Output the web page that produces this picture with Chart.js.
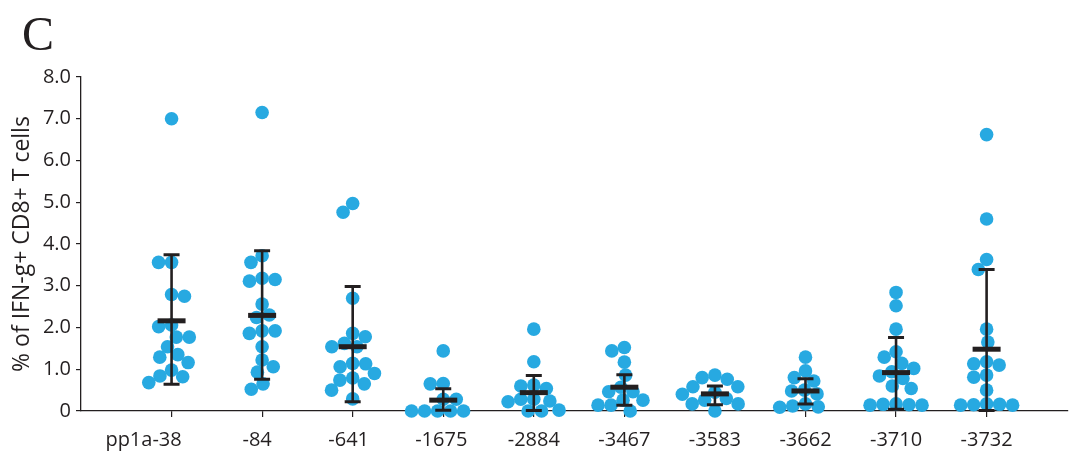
<!DOCTYPE html>
<html><head><meta charset="utf-8">
<script src="https://cdn.jsdelivr.net/npm/chart.js@4.4.1/dist/chart.umd.min.js"></script>
<style>
html,body{margin:0;padding:0;background:#fff;}
#wrap{position:relative;width:1074px;height:452px;}
#panel{position:absolute;left:22px;top:10px;font-family:"Liberation Serif","DejaVu Serif",serif;font-size:48px;line-height:48px;color:#231f20;}
canvas{display:block;}
</style></head><body>
<div id="wrap"><canvas id="c" width="1074" height="452"></canvas><div id="panel">C</div></div>
<script>
const categories = ['pp1a-38','-84','-641','-1675','-2884','-3467','-3583','-3662','-3710','-3732'];
const yTickLabels = ['0','1.0','2.0','3.0','4.0','5.0','6.0','7.0','8.0'];
const yTitle = '% of IFN-g+ CD8+ T cells';

const vals_pp1a38 = [7.00, 3.56, 3.56, 2.79, 2.75, 2.06, 2.02, 1.77, 1.77, 1.54, 1.35, 1.29, 1.16, 0.98, 0.84, 0.82, 0.68];
const vals_84     = [7.15, 3.72, 3.56, 3.18, 3.15, 3.11, 2.56, 2.30, 2.24, 1.92, 1.92, 1.86, 1.54, 1.22, 1.06, 0.93, 0.65, 0.52];
const vals_641    = [4.97, 4.76, 2.70, 1.86, 1.78, 1.62, 1.54, 1.54, 1.14, 1.13, 1.06, 0.90, 0.79, 0.74, 0.65, 0.50, 0.29];
const vals_1675   = [1.44, 0.66, 0.65, 0.28, 0.28, 0.00, 0.00, 0.00, 0.00, 0.00];
const vals_2884   = [1.96, 1.18, 0.62, 0.60, 0.54, 0.28, 0.28, 0.24, 0.22, 0.02, 0.00, 0.00];
const vals_3467   = [1.52, 1.44, 1.17, 0.86, 0.57, 0.46, 0.46, 0.26, 0.26, 0.14, 0.14, 0.00];
const vals_3583   = [0.86, 0.80, 0.76, 0.58, 0.58, 0.45, 0.40, 0.30, 0.26, 0.17, 0.17, 0.00];
const vals_3662   = [1.29, 0.96, 0.80, 0.72, 0.50, 0.48, 0.41, 0.17, 0.12, 0.10, 0.09];
const vals_3710   = [2.84, 2.52, 1.96, 1.42, 1.29, 1.14, 1.02, 0.94, 0.84, 0.78, 0.60, 0.54, 0.17, 0.16, 0.15, 0.14, 0.14];
const vals_3732   = [6.62, 4.60, 3.63, 3.39, 1.96, 1.65, 1.18, 1.13, 1.10, 0.86, 0.81, 0.50, 0.17, 0.16, 0.15, 0.14, 0.14];

const meanVals = [2.16, 2.29, 1.54, 0.26, 0.44, 0.57, 0.41, 0.48, 0.92, 1.48];
const sdUpper  = [3.74, 3.84, 2.98, 0.53, 0.85, 0.87, 0.60, 0.77, 1.76, 3.39];
const sdLower  = [0.64, 0.76, 0.22, 0.02, 0.01, 0.14, 0.15, 0.17, 0.04, 0.01];

const groups = [vals_pp1a38, vals_84, vals_641, vals_1675, vals_2884, vals_3467, vals_3583, vals_3662, vals_3710, vals_3732];
const points = [];
groups.forEach((g, i) => g.forEach(v => points.push({x: i, y: v})));

const INK = '#231f20';
const DOT = '#27a9e1';
const FONT = '"Open Sans", "DejaVu Sans", sans-serif';

// beeswarm: spread points horizontally (pixel space) so they don't stack
const swarm = {
  id: 'swarm',
  afterDatasetsUpdate(chart) {
    const meta = chart.getDatasetMeta(0);
    const xs = chart.scales.x;
    const D = 13;
    const byCat = {};
    meta.data.forEach((el, i) => {
      const raw = chart.data.datasets[0].data[i];
      (byCat[raw.x] = byCat[raw.x] || []).push(el);
    });
    Object.keys(byCat).forEach(k => {
      const cx = xs.getPixelForValue(+k);
      const els = byCat[k].slice().sort((a, b) => a.y - b.y);
      const placed = [];
      let lastSign = 1;
      els.forEach(el => {
        const cands = [0];
        placed.forEach(p => {
          const dy = el.y - p.y;
          if (Math.abs(dy) < D) {
            const w = Math.sqrt(D * D - dy * dy);
            cands.push(p.dx - w, p.dx + w);
          }
        });
        const ok = cands.filter(c => placed.every(p => {
          const dy = el.y - p.y, dx = c - p.dx;
          return dx * dx + dy * dy >= D * D - 0.01;
        }));
        ok.sort((a, b) => {
          const d = Math.abs(a) - Math.abs(b);
          if (Math.abs(d) > 0.5) return d;
          return a * lastSign - b * lastSign;
        });
        const dx = ok[0];
        if (dx > 0.1) lastSign = 1; else if (dx < -0.1) lastSign = -1;
        placed.push({y: el.y, dx});
        el.x = cx + dx;
      });
    });
  }
};

const errbars = {
  id: 'errbars',
  afterDatasetsDraw(chart) {
    const {ctx, scales: {x, y}} = chart;
    ctx.save();
    ctx.strokeStyle = INK;
    ctx.fillStyle = INK;
    categories.forEach((c, i) => {
      const px = x.getPixelForValue(i);
      const yT = y.getPixelForValue(sdUpper[i]);
      const yB = y.getPixelForValue(sdLower[i]);
      const yM = y.getPixelForValue(meanVals[i]);
      ctx.lineWidth = 2.6;
      ctx.beginPath(); ctx.moveTo(px, yT); ctx.lineTo(px, yB); ctx.stroke();
      ctx.lineWidth = 3;
      ctx.beginPath();
      ctx.moveTo(px - 8, yT); ctx.lineTo(px + 8, yT);
      ctx.moveTo(px - 8, yB); ctx.lineTo(px + 8, yB);
      ctx.stroke();
      ctx.fillRect(px - 14, yM - 2.5, 28, 5);
    });
    ctx.restore();
  }
};

// category labels under the x axis (the first label sits left of its column, as in the figure)
const xLabels = {
  id: 'xLabels',
  afterDraw(chart, args, opts) {
    const {ctx, scales: {x}} = chart;
    ctx.save();
    ctx.fillStyle = INK;
    ctx.font = '20px ' + FONT;
    ctx.textAlign = 'center';
    ctx.textBaseline = 'alphabetic';
    categories.forEach((c, i) => {
      const px = x.getPixelForValue(i) + (opts.nudge[i] || 0);
      ctx.fillText(c, px, x.top + opts.baseline);
    });
    ctx.restore();
  }
};

new Chart(document.getElementById('c'), {
  type: 'scatter',
  data: {
    datasets: [{
      data: points,
      backgroundColor: DOT,
      borderWidth: 0,
      pointRadius: 6.8,
      pointHoverRadius: 6.8,
      clip: false
    }]
  },
  options: {
    responsive: false,
    animation: false,
    events: [],
    layout: {padding: {left: 0, top: 77, right: 0, bottom: 0}},
    plugins: {
      legend: {display: false},
      tooltip: {enabled: false},
      xLabels: {nudge: [-28, -5, -4, -2, 0, 0, 0, 0, 0, 0], baseline: 35}
    },
    scales: {
      x: {
        type: 'linear',
        min: -1.0,
        max: 9.89,
        afterBuildTicks(scale) { scale.ticks = categories.map((c, i) => ({value: i})); },
        afterFit(scale) { scale.height = 41; },
        grid: {drawOnChartArea: false, drawTicks: true, tickLength: 6, color: INK, lineWidth: 1.2},
        border: {display: true, color: INK, width: 1.3},
        ticks: {display: false}
      },
      y: {
        min: 0,
        max: 8,
        afterFit(scale) { scale.width = 81; },
        ticks: {
          stepSize: 1,
          color: INK,
          padding: 5,
          font: {family: FONT, size: 20},
          callback: (v, i) => yTickLabels[i]
        },
        grid: {drawOnChartArea: false, drawTicks: true, tickLength: 5, color: INK, lineWidth: 1.2},
        border: {display: true, color: INK, width: 1.3},
        title: {
          display: true,
          text: yTitle,
          color: INK,
          padding: {top: 9, bottom: 0},
          font: {family: FONT, size: 23}
        }
      }
    }
  },
  plugins: [swarm, errbars, xLabels]
});
</script>
</body></html>
